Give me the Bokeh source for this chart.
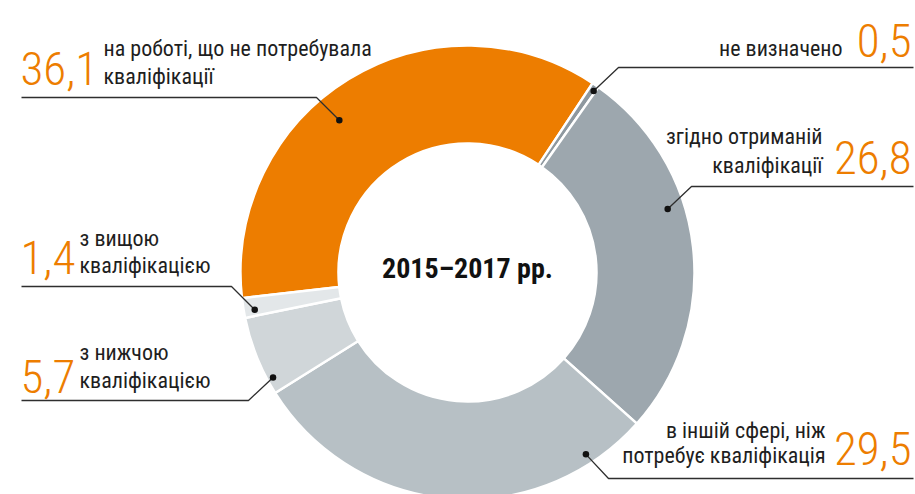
import math
from bokeh.plotting import figure
from bokeh.embed import file_html
from bokeh.resources import INLINE
from bokeh.models import ColumnDataSource, Range1d
from bokeh.core.properties import value

# ---- data (clockwise order, starting with the orange slice) ----
values = [36.1, 0.5, 26.8, 29.5, 5.7, 1.4]
value_labels = ["36,1", "0,5", "26,8", "29,5", "5,7", "1,4"]
descriptions = [
    ["на роботі, що не потребувала", "кваліфікації"],
    ["не визначено"],
    ["згідно отриманій", "кваліфікації"],
    ["в іншій сфері, ніж", "потребує кваліфікація"],
    ["з нижчою", "кваліфікацією"],
    ["з вищою", "кваліфікацією"],
]
center_title = "2015–2017 рр."

# ---- styles / layout ----
colors = ["#ED7D00", "#8E989F", "#9DA7AE", "#B7C0C5", "#D0D6D9", "#E3E7E9"]
ORANGE = "#ED7D00"
TEXT = "#1E1E1E"
LINE = "#2E2E2E"

W, H = 915, 494


def Y(py):                          # page pixel row -> data y
    return H - py


NUM_SHIFT = 15                      # baseline calibration of the svg text
TXT_SHIFT = 7
MID_SHIFT = 4

CX, CY = 467, Y(272)
R_OUT, R_IN = 227, 129
START_DEG = -96.5                   # clockwise from 12 o'clock

# label layout per slice: (align, number x, number baseline, text x, text baselines,
#                          elbow x, elbow y, line end x, dot fraction, dot radius)
layout = [
    ("left", 20, 83, 103, [55, 83], 316, 97, 21, 0.434, 199),
    ("right", 911, 55, 842, [55], 618, 67, 913, 0.75, 221),
    ("right", 911, 172, 822, [143, 172], 691, 186, 913, 0.385, 210),
    ("right", 911, 463, 825, [437, 462], 608, 478, 913, 0.143, 217),
    ("left", 20, 391, 79, [359, 387], 248, 400, 21, 0.18, 221),
    ("left", 20, 272, 79, [245, 272], 231, 286, 21, 0.32, 216),
]

p = figure(width=W, height=H, output_backend="svg", toolbar_location=None,
           x_range=Range1d(0, W), y_range=Range1d(0, H),
           min_border=0, outline_line_color=None)
p.axis.visible = False
p.grid.visible = False
p.background_fill_color = "white"
p.border_fill_color = "white"

total = sum(values)
starts, ends = [], []
acc = START_DEG
for v in values:
    starts.append(acc)
    acc += v / total * 360.0
    ends.append(acc)

# bokeh angles: counter-clockwise from +x
wedge_src = ColumnDataSource(dict(
    start=[math.radians(90 - e) for e in ends],
    end=[math.radians(90 - s) for s in starts],
    color=colors,
))
p.annular_wedge(x=CX, y=CY, inner_radius=R_IN, outer_radius=R_OUT,
                start_angle="start", end_angle="end", source=wedge_src,
                fill_color="color", line_color="white", line_width=2.5)

num_x, num_y, num_t, num_align = [], [], [], []
txt_x, txt_y, txt_t, txt_align = [], [], [], []
lx, ly, dot_x, dot_y = [], [], [], []
for i, lay in enumerate(layout):
    align, nx, nby, tx, tbys, ex, ey, endx, frac, dr = lay
    num_x.append(nx); num_y.append(Y(nby - NUM_SHIFT)); num_t.append(value_labels[i]); num_align.append(align)
    for line, by in zip(descriptions[i], tbys):
        txt_x.append(tx); txt_y.append(Y(by - TXT_SHIFT)); txt_t.append(line); txt_align.append(align)
    th = math.radians(starts[i] + frac * (ends[i] - starts[i]))
    dx = CX + dr * math.sin(th)
    dy = CY + dr * math.cos(th)
    dot_x.append(dx); dot_y.append(dy)
    lx.append([endx, ex, dx]); ly.append([Y(ey), Y(ey), dy])

p.multi_line(xs=lx, ys=ly, line_color=LINE, line_width=1.3)
p.scatter(x=dot_x, y=dot_y, size=6.5, fill_color="#111111", line_color=None)

p.text(x=num_x, y=num_y, text=num_t, text_align=num_align, text_baseline="alphabetic",
       text_font=value("Roboto Condensed Light"), text_font_size="47px", text_color=ORANGE)
p.text(x=txt_x, y=txt_y, text=txt_t, text_align=txt_align, text_baseline="alphabetic",
       text_font=value("Roboto Condensed"), text_font_size="22px", text_color=TEXT)
p.text(x=[CX], y=[CY + MID_SHIFT], text=[center_title], text_align="center", text_baseline="middle",
       text_font=value("Roboto Condensed"), text_font_style="bold",
       text_font_size="28px", text_color="#111111")

open("out.html", "w").write(file_html(p, INLINE))
